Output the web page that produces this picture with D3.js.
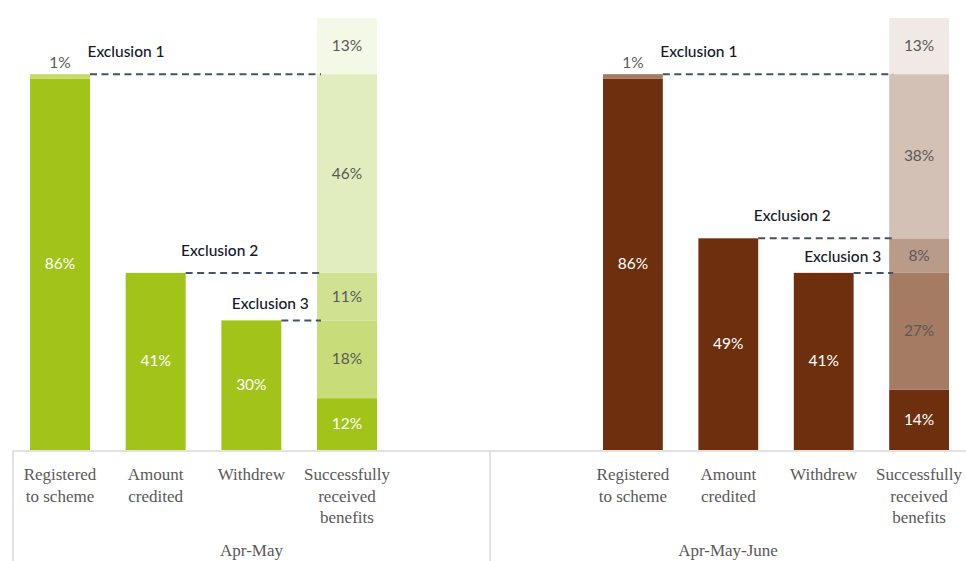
<!DOCTYPE html>
<html>
<head>
<meta charset="utf-8">
<script src="https://cdn.jsdelivr.net/npm/d3@7"></script>
<style>
  body { margin: 0; background: #fff; }
  svg { display: block; }
</style>
</head>
<body>
<svg id="chart" width="966" height="561"></svg>
<script>
// ---- data ----
const categoryLines = [["Registered", "to scheme"], ["Amount", "credited"], ["Withdrew"], ["Successfully", "received", "benefits"]];
const categories = categoryLines.map(d => d.join(" "));
const periods = ["Apr-May", "Apr-May-June"];
const registeredMain = [86, 86];
const registeredTop = [1, 1];
const amountCredited = [41, 49];
const withdrew = [30, 41];
const aprMayBenefits = [12, 18, 11, 46, 13];
const aprMayJuneBenefits = [14, 27, 8, 38, 13];
const exclusionLabels = ["Exclusion 1", "Exclusion 2", "Exclusion 3"];

// colours per period
const palettes = [
  { bar: "#a2c41a", sliver: "#c4da6c", stack: ["#a2c41a", "#c8dc7a", "#d0e292", "#e2edbf", "#f4f8e6"] },
  { bar: "#6e2f0e", sliver: "#a57b64", stack: ["#6e2f0e", "#a57b64", "#b99b8a", "#d4c1b5", "#f1e9e5"] }
];

const svg = d3.select("#chart");
const width = +svg.attr("width");
const height = +svg.attr("height");

const baseY = 450;
const y = d3.scaleLinear().domain([0, 100]).range([baseY, 18]);

// panel frame geometry
const frameLeft = 13;
const divider = 490;
const panelRanges = [[30, 377], [603, 949]];
const labelFont = "Lato, 'Open Sans', sans-serif";
const serifFont = "'Liberation Serif', 'DejaVu Serif', serif";
const grey = "#595959";

const stacks = [aprMayBenefits, aprMayJuneBenefits];

periods.forEach((period, p) => {
  const x = d3.scaleBand()
    .domain(categories)
    .range(panelRanges[p])
    .paddingInner(0.373)
    .paddingOuter(0);
  const bw = x.bandwidth();
  const pal = palettes[p];
  const g = svg.append("g");

  const simpleBars = [
    { cat: categories[0], v: registeredMain[p] },
    { cat: categories[1], v: amountCredited[p] },
    { cat: categories[2], v: withdrew[p] }
  ];

  // solid bars
  g.selectAll("rect.bar")
    .data(simpleBars)
    .enter()
    .append("rect")
    .attr("class", "bar")
    .attr("x", d => x(d.cat))
    .attr("y", d => y(d.v))
    .attr("width", bw)
    .attr("height", d => y(0) - y(d.v))
    .style("fill", pal.bar);

  // 1% sliver on top of the registered bar
  g.append("rect")
    .attr("x", x(categories[0]))
    .attr("y", y(registeredMain[p] + registeredTop[p]))
    .attr("width", bw)
    .attr("height", y(registeredMain[p]) - y(registeredMain[p] + registeredTop[p]))
    .style("fill", pal.sliver);

  g.append("text")
    .attr("x", x(categories[0]) + bw / 2)
    .attr("y", y(registeredMain[p] + registeredTop[p]) - 6)
    .attr("text-anchor", "middle")
    .style("font-family", labelFont)
    .style("font-size", "15.5px")
    .style("fill", grey)
    .text(registeredTop[p] + "%");

  // value labels inside solid bars
  g.selectAll("text.val")
    .data(simpleBars)
    .enter()
    .append("text")
    .attr("class", "val")
    .attr("x", d => x(d.cat) + bw / 2)
    .attr("y", d => (y(d.v) + y(0)) / 2 + 5)
    .attr("text-anchor", "middle")
    .style("font-family", labelFont)
    .style("font-size", "15.5px")
    .style("fill", "#fff")
    .text(d => d.v + "%");

  // stacked benefits bar
  let acc = 0;
  const segs = stacks[p].map((v, i) => {
    const s = { v: v, y0: acc, y1: acc + v, i: i };
    acc += v;
    return s;
  });
  const sx = x(categories[3]);
  g.selectAll("rect.seg")
    .data(segs)
    .enter()
    .append("rect")
    .attr("class", "seg")
    .attr("x", sx)
    .attr("y", d => y(d.y1))
    .attr("width", bw)
    .attr("height", d => y(d.y0) - y(d.y1))
    .style("fill", d => pal.stack[d.i]);

  g.selectAll("text.seg")
    .data(segs)
    .enter()
    .append("text")
    .attr("class", "seg")
    .attr("x", sx + bw / 2)
    .attr("y", d => (y(d.y0) + y(d.y1)) / 2 + 5)
    .attr("text-anchor", "middle")
    .style("font-family", labelFont)
    .style("font-size", "15.5px")
    .style("fill", d => d.i === 0 ? "#fff" : grey)
    .text(d => d.v + "%");

  // exclusion connectors
  const exTops = [registeredMain[p] + registeredTop[p], amountCredited[p], withdrew[p]];
  const exDx = [66, 64, 19];
  const exDy = [-17, -17, -11];
  exTops.forEach((top, k) => {
    const barRight = x(categories[k]) + bw;
    g.append("line")
      .attr("x1", barRight)
      .attr("x2", sx + 4)
      .attr("y1", y(top))
      .attr("y2", y(top))
      .style("stroke", "#44546a")
      .style("stroke-width", 2)
      .style("stroke-dasharray", "7,4.5");
    g.append("text")
      .attr("x", x(categories[k]) + bw / 2 + exDx[k])
      .attr("y", y(top) + exDy[k])
      .attr("text-anchor", "middle")
      .style("font-family", labelFont)
      .style("font-size", "15.5px")
      .style("font-weight", 500)
      .style("fill", "#141a2a")
      .text(exclusionLabels[k]);
  });

  // category labels
  categoryLines.forEach((lines, c) => {
    const t = g.append("text")
      .attr("text-anchor", "middle")
      .style("font-family", serifFont)
      .style("font-size", "17px")
      .style("fill", grey);
    lines.forEach((line, li) => {
      t.append("tspan")
        .attr("x", x(categories[c]) + bw / 2)
        .attr("y", 480 + li * 21.5)
        .text(line);
    });
  });

  // period label
  const pLeft = p === 0 ? frameLeft : divider;
  const pRight = p === 0 ? divider : width;
  g.append("text")
    .attr("x", (pLeft + pRight) / 2)
    .attr("y", 556)
    .attr("text-anchor", "middle")
    .style("font-family", serifFont)
    .style("font-size", "17px")
    .style("fill", grey)
    .text(period);
});

// axis frame
const frame = svg.append("g")
  .style("stroke", "#d9d9d9")
  .style("stroke-width", 1.5);
frame.append("line").attr("x1", frameLeft).attr("x2", width).attr("y1", baseY + 1).attr("y2", baseY + 1);
frame.append("line").attr("x1", frameLeft).attr("x2", frameLeft).attr("y1", baseY + 1).attr("y2", height);
frame.append("line").attr("x1", divider).attr("x2", divider).attr("y1", baseY + 1).attr("y2", height);
</script>
</body>
</html>
